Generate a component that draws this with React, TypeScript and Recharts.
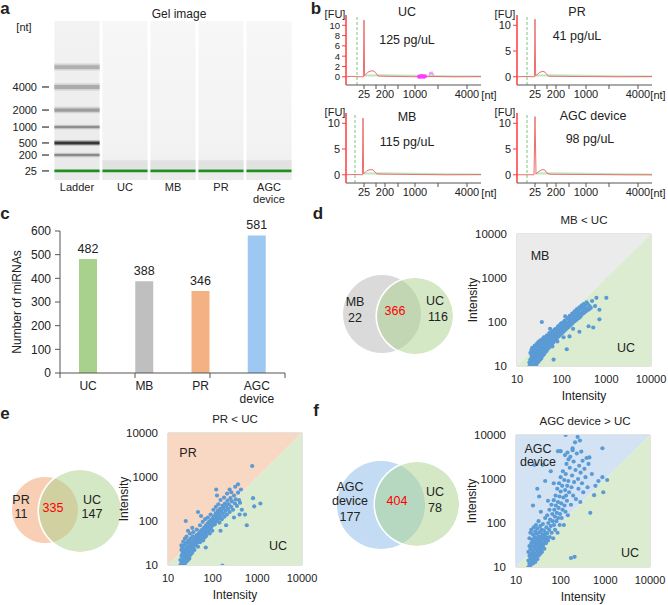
import React from "react";
import {
  ComposedChart, BarChart, Bar, Cell, LabelList, Line, Area, Scatter, XAxis, YAxis,
  ReferenceArea, ReferenceLine, CartesianGrid, PieChart, Pie,
} from "recharts";

const FONT = '"Liberation Sans", Arial, Helvetica, sans-serif';

// ---- a: gel image ----
const lanes = ["Ladder", "UC", "MB", "PR", "AGC device"];
const ladderSizes = [25, 200, 500, 1000, 2000, 4000];
const ladderMigration = [5.7, 15.7, 23.3, 33.3, 44.0, 58.5]; // band position, % of lane height
const upperMarkerMigration = 71;
const sampleSmear = [7, 12.5];
const belowMarker = [0.6, 4.7];

// ---- b: electropherograms (t = migration time, fu = fluorescence) ----
const sizeLabels = [25, 200, 1000, 4000];
const sizeTimes = [18, 39, 69, 121];
const minorTimes = [30, 52, 92];
const ucTrace = [[0, 0], [6, 0.1], [12, 0], [17.4, 0], [18, 11], [18.6, 0.2], [20, 0.5], [22, 0.9], [25, 1.15], [28, 1.1], [30, 0.7], [32, 0.15], [40, 0.1], [55, 0.05], [70, 0], [90, 0.05], [110, 0], [135, 0.05]];
const mbTrace = [[0, 0], [8, 0.05], [16.4, 0], [17, 11], [17.6, 0.2], [19, 0.4], [21, 0.8], [24, 1.0], [27, 0.95], [29, 0.5], [31, 0.15], [45, 0.1], [70, 0.05], [100, 0], [135, 0.05]];
const prTrace = [[0, 0], [9, 0.05], [17.4, 0], [18, 11.2], [18.6, 0.2], [20, 0.4], [23, 0.9], [26, 1.05], [28, 0.9], [30, 0.4], [32, 0.1], [60, 0.05], [100, 0], [135, 0.05]];
const agcTrace = [[0, 0], [9, 0], [17, 0], [18, 11.3], [19, 0.2], [21, 0.5], [24, 0.9], [26, 1.0], [28, 0.9], [30, 0.3], [33, 0.1], [70, 0.05], [110, 0], [135, 0]];
const greenBaseline = [[18, 0.25], [35, 0.3], [70, 0.2], [100, 0.1], [135, 0.05]];
const ucFlags = [[73, 0], [74, 0.1], [75, 0], [76, 0.15], [77, 0.05], [78, 0], [79, 0.1]];
const ucSquiggle = [[83, 0.2], [84, 0.9], [85, 0.4], [86, 1.0], [87, 0.3], [88, 0.6]];

// ---- c: miRNA counts ----
const groups = ["UC", "MB", "PR", "AGC device"];
const miRNACounts = [482, 388, 346, 581];
const barColors = ["#a9d18e", "#bfbfbf", "#f4b183", "#9dc8f2"];

// ---- d/e/f: venn counts [left only, shared, UC only] ----
const vennD = [22, 366, 116];
const vennE = [11, 335, 147];
const vennF = [177, 404, 78];

// ---- d/e/f: intensity scatter [UC, other] ----
const decades = [10, 100, 1000, 10000];
const diagonalEnds = [10, 10000];

const mbVsUc = [
  [19, 10], [19, 12], [20, 11], [20, 14], [20, 13], [21, 10], [21, 12], [21, 15], [22, 11], [22, 13], [22, 16], [23, 12], [23, 14], [23, 18], [24, 11], [24, 15], [24, 13], [25, 12], [25, 17], [25, 14],
  [26, 13], [26, 16], [26, 19], [27, 12], [27, 15], [27, 18], [28, 14], [28, 17], [28, 21], [29, 16], [29, 19], [30, 15], [30, 18], [30, 22], [31, 17], [31, 20], [32, 16], [32, 23], [33, 19], [33, 21],
  [34, 18], [34, 25], [35, 20], [35, 23], [36, 19], [36, 26], [37, 22], [38, 24], [38, 20], [39, 27], [40, 23], [40, 26], [42, 25], [42, 30], [44, 27], [44, 33], [45, 24], [46, 29], [47, 35], [48, 28],
  [49, 32], [50, 36], [51, 30], [52, 38], [53, 33], [55, 31], [55, 40], [57, 36], [58, 42], [59, 34], [60, 39], [62, 45], [63, 37], [64, 41], [66, 48], [67, 40], [68, 44], [70, 52], [71, 43], [72, 47],
  [74, 55], [75, 46], [77, 50], [79, 58], [80, 49], [82, 54], [84, 62], [86, 52], [88, 58], [90, 66], [92, 56], [94, 62], [96, 70], [98, 60], [100, 66], [104, 74], [107, 64], [110, 70], [113, 80], [116, 72],
  [120, 78], [124, 88], [128, 76], [132, 85], [136, 96], [140, 84], [145, 92], [150, 104], [155, 90], [160, 100], [166, 112], [172, 98], [178, 110], [185, 122], [192, 108], [200, 120], [208, 134], [216, 118], [225, 130], [235, 146],
  [245, 128], [258, 140], [270, 158], [285, 150], [300, 170], [315, 160], [330, 185], [350, 175], [370, 205], [395, 190], [420, 230], [450, 210], [380, 260], [330, 240], [300, 210], [36, 100], [66, 14], [130, 24], [150, 47], [400, 80],
  [510, 75], [700, 190], [700, 115], [600, 355], [1000, 355], [480, 300], [560, 230], [40, 45], [55, 70], [120, 135], [250, 60], [21, 18], [23, 21], [26, 24], [29, 28], [33, 30], [37, 33], [43, 39], [48, 44], [54, 50],
  [23, 10], [25, 10], [27, 10.5], [29, 12], [31, 13], [33, 14], [35, 15], [37, 17], [39, 18], [41, 19], [43, 21], [46, 22], [50, 25], [54, 27], [58, 30], [62, 33], [66, 35], [72, 39], [78, 43], [85, 47],
  [92, 51], [100, 55], [110, 60], [120, 66], [132, 72], [145, 78], [160, 86], [175, 94], [195, 104], [215, 112], [240, 122], [265, 134], [30, 28], [34, 32], [38, 36], [42, 40], [46, 44], [52, 49], [58, 55], [65, 62],
  [73, 68], [82, 76], [92, 86], [104, 96], [118, 108], [134, 122], [152, 138], [172, 155], [195, 175], [220, 196], [250, 215], [280, 235], [310, 255], [190, 150], [260, 200], [340, 200], [360, 280], [420, 200],
  [20, 20], [21, 23], [22, 26], [24, 24], [25, 29], [27, 27], [28, 32], [30, 35], [31, 29], [33, 38], [35, 33], [36, 40], [39, 37], [41, 44], [44, 42], [47, 50], [50, 46], [53, 56], [57, 52], [61, 60],
  [66, 58], [70, 68], [76, 66], [83, 80], [89, 74], [97, 92], [106, 86], [115, 104], [126, 98], [140, 120], [155, 116], [170, 140], [188, 132], [205, 160], [230, 170], [255, 190], [62, 28], [80, 36], [110, 45], [180, 70],
];

const prVsUc = [
  [19, 10], [19, 13], [20, 11], [20, 16], [20, 22], [21, 12], [21, 18], [21, 25], [22, 10], [22, 14], [22, 20], [23, 13], [23, 17], [23, 28], [24, 11], [24, 15], [24, 22], [25, 14], [25, 19], [25, 30],
  [26, 12], [26, 17], [26, 24], [27, 15], [27, 21], [27, 33], [28, 13], [28, 19], [28, 26], [29, 16], [29, 23], [29, 36], [30, 18], [30, 27], [30, 14], [31, 21], [31, 30], [32, 17], [32, 25], [32, 40],
  [33, 20], [33, 29], [34, 23], [34, 33], [35, 19], [35, 27], [36, 31], [36, 45], [37, 24], [38, 29], [38, 37], [39, 22], [40, 33], [40, 42], [42, 28], [43, 38], [44, 48], [45, 32], [46, 42], [47, 26],
  [48, 36], [49, 52], [50, 40], [51, 46], [52, 33], [53, 58], [55, 44], [56, 38], [57, 52], [58, 64], [60, 46], [61, 36], [62, 56], [64, 70], [65, 50], [66, 42], [68, 62], [70, 78], [71, 54], [72, 46],
  [74, 66], [76, 86], [78, 58], [80, 72], [82, 94], [84, 64], [86, 52], [88, 80], [90, 104], [92, 70], [95, 88], [98, 60], [100, 115], [100, 80], [105, 96], [108, 130], [112, 84], [115, 110], [118, 150], [122, 98],
  [126, 128], [130, 170], [134, 112], [138, 145], [142, 92], [146, 190], [150, 130], [155, 165], [160, 110], [165, 220], [170, 150], [176, 190], [182, 125], [188, 250], [195, 170], [200, 215], [208, 140], [215, 290], [222, 190], [230, 240],
  [240, 160], [250, 330], [260, 210], [270, 280], [285, 180], [300, 380], [315, 250], [330, 310], [350, 220], [370, 440], [390, 300], [410, 260], [430, 520], [25, 100], [47, 160], [120, 520], [125, 380], [370, 680], [240, 520], [767, 1780],
  [800, 330], [1170, 250], [850, 215], [530, 140], [400, 140], [580, 80], [165, 9.7], [28, 60], [35, 70], [55, 130], [70, 25], [150, 60], [200, 80], [300, 120], [450, 180],
  [20, 28], [22, 34], [24, 40], [26, 44], [31, 52], [37, 56], [44, 64], [52, 80], [60, 96], [68, 110], [78, 120], [90, 140], [104, 180], [118, 210], [134, 240], [150, 300], [180, 340], [210, 420], [260, 450], [320, 600],
];

const agcVsUc = [
  [19, 10], [19, 14], [19, 22], [20, 12], [20, 18], [20, 30], [20, 45], [21, 11], [21, 16], [21, 26], [21, 60], [22, 13], [22, 20], [22, 35], [22, 70], [23, 15], [23, 24], [23, 42], [24, 12], [24, 18],
  [24, 30], [24, 55], [25, 14], [25, 22], [25, 38], [25, 80], [26, 16], [26, 28], [26, 48], [27, 13], [27, 20], [27, 34], [27, 65], [28, 17], [28, 26], [28, 44], [28, 90], [29, 19], [29, 32], [29, 58],
  [30, 15], [30, 24], [30, 40], [30, 75], [31, 21], [31, 36], [32, 18], [32, 28], [32, 50], [32, 110], [33, 24], [33, 42], [34, 30], [34, 62], [35, 20], [35, 36], [35, 85], [36, 26], [36, 48], [37, 32],
  [37, 70], [38, 22], [38, 40], [39, 55], [40, 30], [40, 95], [41, 45], [42, 34], [42, 68], [43, 26], [44, 52], [45, 40], [45, 130], [46, 60], [47, 35], [48, 80], [49, 46], [50, 150], [50, 58], [52, 40],
  [53, 100], [55, 70], [56, 200], [57, 48], [58, 120], [60, 85], [62, 260], [63, 60], [65, 160], [66, 110], [68, 45], [70, 330], [71, 90], [72, 200], [74, 140], [75, 70], [77, 420], [78, 250], [80, 110], [82, 170],
  [84, 600], [85, 60], [87, 300], [88, 130], [90, 220], [92, 800], [94, 400], [95, 90], [97, 160], [100, 520], [100, 1100], [103, 280], [105, 130], [108, 700], [110, 200], [112, 1500], [115, 380], [118, 90], [120, 950], [122, 250],
  [125, 3500], [126, 560], [128, 180], [130, 1300], [132, 420], [135, 2200], [138, 320], [140, 700], [142, 4000], [145, 150], [148, 900], [150, 2800], [155, 500], [160, 1800], [165, 3200], [170, 260], [175, 650], [180, 1200], [185, 5000], [190, 420],
  [195, 2500], [200, 850], [205, 17], [210, 6800], [215, 1600], [220, 350], [230, 3800], [240, 9000], [245, 1000], [250, 600], [260, 2000], [270, 7500], [275, 300], [280, 1400], [290, 4200], [300, 800], [310, 2600], [320, 500], [340, 1700], [360, 1100],
  [380, 3000], [400, 650], [420, 2200], [440, 3100], [460, 170], [500, 1300], [560, 430], [600, 700], [700, 900], [860, 5000], [860, 1100], [900, 500], [1100, 950], [170, 16], [129, 10000], [185, 4500], [100, 4300], [87, 4300], [26, 2100], [40, 2100],
  [60, 1500], [45, 900], [30, 600], [70, 800], [24, 250], [33, 400], [52, 320], [36, 180],
];

const toPoints = (rows: number[][]) => rows.map(([x, y]) => ({ x, y }));
const toTrace = (rows: number[][]) => rows.map(([t, fu]) => ({ t, fu }));

function Txt({ x, y, children, size = 12, color = "#222", bold = false }: any) {
  return (
    <div
      style={{
        position: "absolute", left: x, top: y, transform: "translate(-50%,-50%)",
        fontSize: size, color, fontWeight: bold ? 700 : 400, whiteSpace: "nowrap", lineHeight: 1,
      }}
    >
      {children}
    </div>
  );
}

function GelYTick({ x, y, payload }: any) {
  const i = ladderMigration.indexOf(payload.value);
  return (
    <g>
      <line x1={x - 11} x2={x - 4} y1={y} y2={y} stroke="#333" strokeWidth={1.2} />
      <text x={x - 16} y={y + 4} textAnchor="end" fontSize={11} fill="#222">{ladderSizes[i]}</text>
    </g>
  );
}

function LaneTick({ x, y, payload }: any) {
  const words = String(lanes[payload.value] ?? "").split(" ");
  return (
    <text x={x} y={y} textAnchor="middle" fontSize={11} fill="#222">
      {words.map((w, k) => (
        <tspan key={k} x={x} dy={k === 0 ? 11 : 12}>{w}</tspan>
      ))}
    </text>
  );
}

function Gel() {
  const ladderStyle = [
    { core: "#1f8f1f", halo: "#1f8f1f", w: 1.8 },
    { core: "#8a8a8a", halo: "#d6d6d6", w: 1.5 },
    { core: "#363636", halo: "#bdbdbd", w: 1.8 },
    { core: "#8e8e8e", halo: "#d4d4d4", w: 1.5 },
    { core: "#9c9c9c", halo: "#d2d2d2", w: 2.0 },
    { core: "#ababab", halo: "#d6d6d6", w: 2.4 },
  ];
  return (
    <ComposedChart width={300} height={205} data={lanes.map((l, i) => ({ i, l }))} margin={{ top: 21, right: 7, bottom: 0, left: 0 }}>
      <defs>
        <linearGradient id="laneFill" x1="0" y1="0" x2="0" y2="1">
          <stop offset="0%" stopColor="#f7f7f7" />
          <stop offset="80%" stopColor="#f2f2f2" />
          <stop offset="100%" stopColor="#ececec" />
        </linearGradient>
        <linearGradient id="ladderFill" x1="0" y1="0" x2="0" y2="1">
          <stop offset="0%" stopColor="#f3f3f3" />
          <stop offset="100%" stopColor="#e9e9e9" />
        </linearGradient>
      </defs>
      <XAxis type="number" dataKey="i" domain={[-0.5, 4.5]} ticks={[0, 1, 2, 3, 4]} tick={<LaneTick />} axisLine={false} tickLine={false} tickSize={0} tickMargin={0} height={25} interval={0} allowDataOverflow />
      <YAxis type="number" domain={[0, 100]} ticks={ladderMigration} tick={<GelYTick />} axisLine={false} tickLine={false} tickSize={0} tickMargin={0} width={53} interval={0} allowDataOverflow />
      {lanes.map((l, i) => (
        <ReferenceArea key={l} x1={i - 0.47} x2={i + 0.47} y1={0} y2={100} fill={i === 0 ? "url(#ladderFill)" : "url(#laneFill)"} fillOpacity={1} stroke="none" />
      ))}
      {lanes.slice(1).map((l, k) => (
        <ReferenceArea key={"s" + l} x1={k + 1 - 0.47} x2={k + 1 + 0.47} y1={sampleSmear[0]} y2={sampleSmear[1]} fill="#e2e2e2" fillOpacity={1} stroke="none" />
      ))}
      {lanes.slice(1).map((l, k) => (
        <ReferenceArea key={"b" + l} x1={k + 1 - 0.47} x2={k + 1 + 0.47} y1={belowMarker[0]} y2={belowMarker[1]} fill="#ebebeb" fillOpacity={1} stroke="none" />
      ))}
      <ReferenceArea x1={-0.47} x2={0.47} y1={upperMarkerMigration - 2.2} y2={upperMarkerMigration + 2.2} fill="#d4d4d4" fillOpacity={1} stroke="none" />
      <ReferenceArea x1={-0.47} x2={0.47} y1={upperMarkerMigration - 1.2} y2={upperMarkerMigration + 1.2} fill="#b0b0b0" fillOpacity={1} stroke="none" />
      {ladderMigration.map((m, k) => (
        <ReferenceArea key={"h" + k} x1={-0.47} x2={0.47} y1={m - ladderStyle[k].w} y2={m + ladderStyle[k].w} fill={ladderStyle[k].halo} fillOpacity={k === 0 ? 0 : 1} stroke="none" />
      ))}
      {ladderMigration.map((m, k) => (
        <ReferenceArea key={"c" + k} x1={-0.47} x2={0.47} y1={m - ladderStyle[k].w / 2} y2={m + ladderStyle[k].w / 2} fill={ladderStyle[k].core} fillOpacity={1} stroke="none" />
      ))}
      {lanes.slice(1).map((l, k) => (
        <ReferenceArea key={"g" + l} x1={k + 1 - 0.47} x2={k + 1 + 0.47} y1={ladderMigration[0] - 0.9} y2={ladderMigration[0] + 0.9} fill="#1f8f1f" fillOpacity={1} stroke="none" />
      ))}
    </ComposedChart>
  );
}

function Electro({ trace, marker, yTicks, flags, squiggle }: any) {
  const ticks = [...sizeTimes, ...minorTimes].sort((a, b) => a - b);
  const dense = yTicks.length > 3;
  return (
    <ComposedChart width={185} height={100} margin={{ top: 10, right: 14, bottom: 0, left: 0 }}>
      <XAxis
        type="number" dataKey="t" domain={[0, 135]} ticks={ticks} interval={0} allowDataOverflow
        tickFormatter={(v: number) => { const i = sizeTimes.indexOf(v); return i >= 0 ? String(sizeLabels[i]) : ""; }}
        axisLine={{ stroke: "#555" }} tickLine={{ stroke: "#555" }} tickSize={4} tickMargin={1} height={20}
        tick={{ fontSize: 11, fill: "#222" }}
      />
      <YAxis
        type="number" dataKey="fu" domain={[-1.6, 12]} ticks={yTicks} interval={0} allowDataOverflow width={36}
        axisLine={{ stroke: "#ff3b3b", strokeWidth: 1.5 }} tickLine={{ stroke: "#ff3b3b" }} tickSize={4} tickMargin={2}
        tick={{ fontSize: dense ? 9.5 : 11, fill: "#222" }}
      />
      <ReferenceLine x={marker} stroke="#7cc47c" strokeDasharray="3 2" />
      <Line data={toTrace(greenBaseline)} dataKey="fu" stroke="#c2e6c2" strokeWidth={2} dot={false} isAnimationActive={false} />
      <Line data={toTrace(trace)} dataKey="fu" stroke="#ec6f6f" strokeWidth={1} dot={false} isAnimationActive={false} />
      {squiggle && <Line data={toTrace(squiggle)} dataKey="fu" stroke="#f08cf0" strokeWidth={1} dot={false} isAnimationActive={false} />}
      {flags && (
        <Scatter
          data={toTrace(flags)} dataKey="fu" isAnimationActive={false}
          shape={(p: any) => <circle cx={p.cx} cy={p.cy} r={2} fill="#ff3cff" />}
        />
      )}
    </ComposedChart>
  );
}

function CatTick({ x, y, payload }: any) {
  const words = String(payload.value).split(" ");
  return (
    <text x={x} y={y} textAnchor="middle" fontSize={12} fill="#222">
      {words.map((w, k) => (
        <tspan key={k} x={x} dy={k === 0 ? 16 : 13}>{w}</tspan>
      ))}
    </text>
  );
}

function Counts() {
  const data = groups.map((g, i) => ({ g, n: miRNACounts[i] }));
  return (
    <BarChart width={300} height={205} data={data} margin={{ top: 26, right: 15, bottom: 0, left: 0 }}>
      <XAxis xAxisId="a_edge" type="number" domain={[0, groups.length]} ticks={[0, 1, 2, 3, 4]} tickFormatter={() => ""} stroke="#555" tickSize={5} height={1} interval={0} />
      <XAxis xAxisId="b_cat" dataKey="g" tick={<CatTick />} axisLine={false} tickLine={false} tickSize={0} tickMargin={0} height={36} interval={0} />
      <YAxis
        domain={[0, 600]} ticks={[0, 100, 200, 300, 400, 500, 600]} width={60} stroke="#555" tickSize={5} tickMargin={4}
        tick={{ fontSize: 12, fill: "#222" }} interval={0}
        label={{ value: "Number of miRNAs", angle: -90, position: "insideLeft", offset: 17, style: { textAnchor: "middle", fontSize: 12, fill: "#222" } }}
      />
      <Bar xAxisId="b_cat" dataKey="n" barSize={18} isAnimationActive={false}>
        {data.map((d, i) => <Cell key={d.g} fill={barColors[i]} />)}
        <LabelList dataKey="n" position="top" offset={6} style={{ fontSize: 12.5, fill: "#222" }} />
      </Bar>
    </BarChart>
  );
}

function Venn({ width, height, circles }: any) {
  return (
    <PieChart width={width} height={height}>
      {circles.map((c: any, k: number) => (
        <Pie
          key={"f" + k} data={[{ v: c.v }]} dataKey="v" cx={c.cx} cy={c.cy} outerRadius={c.r} innerRadius={0}
          startAngle={90} endAngle={450} stroke="none" isAnimationActive={false}
        >
          <Cell fill={c.fill} fillOpacity={c.opacity} />
        </Pie>
      ))}
      {circles.filter((c: any) => c.ring).map((c: any, k: number) => (
        <Pie
          key={"r" + k} data={[{ v: c.v }]} dataKey="v" cx={c.cx} cy={c.cy} outerRadius={c.r + 1.6} innerRadius={c.r}
          startAngle={90} endAngle={450} stroke="none" isAnimationActive={false}
        >
          <Cell fill="#ffffff" />
        </Pie>
      ))}
    </PieChart>
  );
}

function IntensityScatter({ rows, upperFill }: any) {
  const diag = diagonalEnds.map((v) => ({ x: v, y: v }));
  return (
    <ComposedChart width={212} height={195} margin={{ top: 23, right: 20, bottom: 4, left: 5 }}>
      <XAxis
        type="number" dataKey="x" scale="log" domain={[10, 10000]} ticks={decades} interval={0} allowDataOverflow
        axisLine={false} tickLine={false} tickSize={6} tickMargin={3} height={36} tick={{ fontSize: 11, fill: "#222" }}
        label={{ value: "Intensity", position: "insideBottom", offset: 2, style: { fontSize: 12, fill: "#222" } }}
      />
      <YAxis
        type="number" dataKey="y" scale="log" domain={[10, 10000]} ticks={decades} interval={0} allowDataOverflow
        axisLine={false} tickLine={false} tickSize={6} tickMargin={4} width={53} tick={{ fontSize: 11.5, fill: "#222" }}
        label={{ value: "Intensity", angle: -90, position: "insideLeft", offset: 9, style: { textAnchor: "middle", fontSize: 12, fill: "#222" } }}
      />
      <Area data={diag} dataKey={(d: any) => [d.y, 10000]} type="linear" stroke="none" fill={upperFill} fillOpacity={1} isAnimationActive={false} />
      <Area data={diag} dataKey={(d: any) => [10, d.y]} type="linear" stroke="none" fill="#dcecd0" fillOpacity={1} isAnimationActive={false} />
      <CartesianGrid stroke="#c8c8c8" />
      <Scatter
        data={toPoints(rows)} isAnimationActive={false}
        shape={(p: any) => <circle cx={p.cx} cy={p.cy} r={2.1} fill="#5b9bd5" />}
      />
    </ComposedChart>
  );
}

function Abs({ x, y, children }: any) {
  return <div style={{ position: "absolute", left: x, top: y }}>{children}</div>;
}

export default function App() {
  return (
    <div style={{ position: "relative", width: 668, height: 605, background: "#fff", fontFamily: FONT, color: "#222", overflow: "hidden" }}>
      <style>{"body{margin:0}"}</style>

      {/* a */}
      <Abs x={0} y={0}><Gel /></Abs>
      <Txt x={5} y={8} size={17} bold>a</Txt>
      <Txt x={179} y={14}>Gel image</Txt>
      <Txt x={24} y={27} size={11}>[nt]</Txt>

      {/* b */}
      <Txt x={316} y={8} size={17} bold>b</Txt>
      <Abs x={310} y={5}><Electro trace={ucTrace} marker={11} yTicks={[0, 2, 4, 6, 8, 10]} flags={ucFlags} squiggle={ucSquiggle} /></Abs>
      <Abs x={481} y={5}><Electro trace={prTrace} marker={10} yTicks={[0, 5, 10]} /></Abs>
      <Abs x={310} y={103}><Electro trace={mbTrace} marker={9} yTicks={[0, 5, 10]} /></Abs>
      <Abs x={481} y={103}><Electro trace={agcTrace} marker={10} yTicks={[0, 5, 10]} /></Abs>
      <Txt x={335} y={14} size={11}>[FU]</Txt>
      <Txt x={505} y={14} size={11}>[FU]</Txt>
      <Txt x={335} y={112} size={11}>[FU]</Txt>
      <Txt x={505} y={112} size={11}>[FU]</Txt>
      <Txt x={489} y={95} size={11}>[nt]</Txt>
      <Txt x={658} y={95} size={11}>[nt]</Txt>
      <Txt x={489} y={193} size={11}>[nt]</Txt>
      <Txt x={658} y={193} size={11}>[nt]</Txt>
      <Txt x={407} y={12} size={12.5}>UC</Txt>
      <Txt x={407} y={40} size={12.5}>125 pg/uL</Txt>
      <Txt x={577} y={12} size={12.5}>PR</Txt>
      <Txt x={577} y={36} size={12.5}>41 pg/uL</Txt>
      <Txt x={407} y={117} size={12.5}>MB</Txt>
      <Txt x={407} y={142} size={12.5}>115 pg/uL</Txt>
      <Txt x={593} y={116} size={12.5}>AGC device</Txt>
      <Txt x={590} y={139} size={12.5}>98 pg/uL</Txt>

      {/* c */}
      <Abs x={0} y={205}><Counts /></Abs>
      <Txt x={5} y={213} size={17} bold>c</Txt>

      {/* d */}
      <Txt x={318} y={213} size={17} bold>d</Txt>
      <Abs x={320} y={262}>
        <Venn width={140} height={100} circles={[
          { v: vennD[0] + vennD[1], cx: 57, cy: 47, r: 39, fill: "#dadada", opacity: 1 },
          { v: vennD[1] + vennD[2], cx: 90, cy: 49, r: 38, fill: "#a9d18e", opacity: 0.5, ring: true },
        ]} />
      </Abs>
      <Txt x={355} y={302} size={12.5}>MB</Txt>
      <Txt x={355} y={318} size={12.5}>{vennD[0]}</Txt>
      <Txt x={395} y={311} size={12.5} color="#ff0000">{vennD[1]}</Txt>
      <Txt x={435} y={301} size={12.5}>UC</Txt>
      <Txt x={438} y={317} size={12.5}>{vennD[2]}</Txt>
      <Abs x={459} y={211}><IntensityScatter rows={mbVsUc} upperFill="#ebebeb" /></Abs>
      <Txt x={584} y={221} size={11.5}>MB &lt; UC</Txt>
      <Txt x={540} y={256} size={12.5}>MB</Txt>
      <Txt x={626} y={348} size={12.5}>UC</Txt>

      {/* e */}
      <Txt x={5} y={413} size={17} bold>e</Txt>
      <Abs x={0} y={455}>
        <Venn width={130} height={100} circles={[
          { v: vennE[0] + vennE[1], cx: 40, cy: 50, r: 33, fill: "#f8cfb5", opacity: 1 },
          { v: vennE[1] + vennE[2], cx: 75, cy: 51, r: 41, fill: "#a9d18e", opacity: 0.5, ring: true },
        ]} />
      </Abs>
      <Txt x={21} y={500} size={12.5}>PR</Txt>
      <Txt x={21} y={514} size={12.5}>{vennE[0]}</Txt>
      <Txt x={53} y={508} size={12.5} color="#ff0000">{vennE[1]}</Txt>
      <Txt x={92} y={500} size={12.5}>UC</Txt>
      <Txt x={92} y={514} size={12.5}>{vennE[2]}</Txt>
      <Abs x={110} y={410}><IntensityScatter rows={prVsUc} upperFill="#f9d8c3" /></Abs>
      <Txt x={235} y={420} size={11.5}>PR &lt; UC</Txt>
      <Txt x={188} y={453} size={12.5}>PR</Txt>
      <Txt x={278} y={546} size={12.5}>UC</Txt>

      {/* f */}
      <Txt x={316} y={410} size={17} bold>f</Txt>
      <Abs x={325} y={450}>
        <Venn width={140} height={100} circles={[
          { v: vennF[0] + vennF[1], cx: 51, cy: 50, r: 44, fill: "#c3dcf3", opacity: 1 },
          { v: vennF[1] + vennF[2], cx: 87, cy: 49, r: 42, fill: "#a9d18e", opacity: 0.5, ring: true },
        ]} />
      </Abs>
      <Txt x={350} y={487} size={12.5}>AGC</Txt>
      <Txt x={350} y={501} size={12.5}>device</Txt>
      <Txt x={350} y={517} size={12.5}>{vennF[0]}</Txt>
      <Txt x={397} y={501} size={12.5} color="#ff0000">{vennF[1]}</Txt>
      <Txt x={435} y={492} size={12.5}>UC</Txt>
      <Txt x={435} y={508} size={12.5}>{vennF[2]}</Txt>
      <Abs x={458} y={412}><IntensityScatter rows={agcVsUc} upperFill="#d3e3f4" /></Abs>
      <Txt x={585} y={422} size={11.5}>AGC device &gt; UC</Txt>
      <Txt x={538} y={449} size={12.5}>AGC</Txt>
      <Txt x={538} y={462} size={12.5}>device</Txt>
      <Txt x={630} y={553} size={12.5}>UC</Txt>
    </div>
  );
}
